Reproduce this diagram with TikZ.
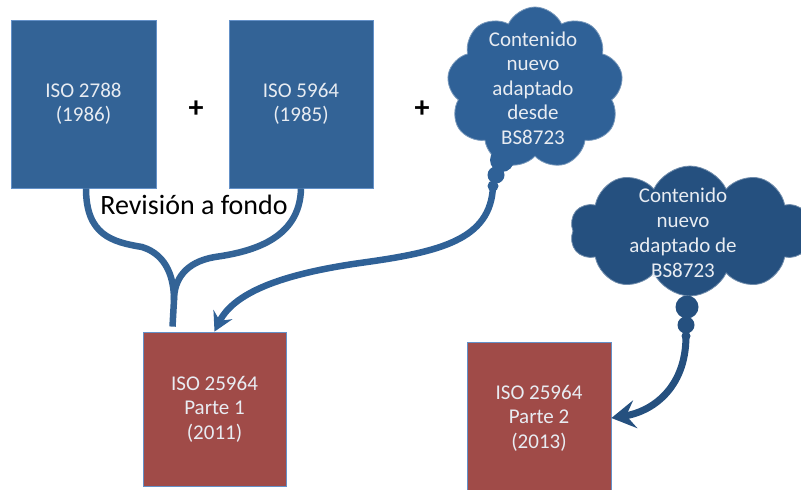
\documentclass[tikz,border=0pt]{standalone}
\usepackage{fontspec}
\setmainfont{Carlito}
\usetikzlibrary{shapes.symbols,arrows.meta}
\definecolor{isoblue}{RGB}{51,99,150}
\definecolor{cloudblue}{RGB}{47,97,151}
\definecolor{darkcloud}{RGB}{37,80,127}
\definecolor{isored}{RGB}{160,75,72}
\definecolor{edgeblue}{RGB}{100,145,200}
\definecolor{paletext}{RGB}{232,236,242}

\begin{document}
\begin{tikzpicture}[x=1pt,y=-1pt,
		oldbox/.style={fill=isoblue,draw=edgeblue,line width=0.8pt,minimum width=145pt,minimum height=168pt,text=paletext,align=center,font=\fontsize{21}{24.5}\selectfont},
		newbox/.style={oldbox,fill=isored,minimum width=143pt,minimum height=154pt},
		puffy/.style={cloud,cloud ignores aspect,fill=#1,draw=white!35!#1,line width=0.8pt,inner sep=0pt},
		bubble/.style={circle,fill=#1,inner sep=0pt},
		cloudtext/.style={text=paletext,align=center,font=\fontsize{21}{24.5}\selectfont},
		plus/.style={font=\fontsize{30}{30}\selectfont\bfseries},
		conn/.style={draw=#1,line width=6.5pt}]
		%%%%% START %%%%%
		
		\clip (0,0) rectangle (801,490);
		
		\node[oldbox] (b1) at (83.5,104) {ISO 2788\\(1986)};
		\node[oldbox,minimum width=144pt] (b2) at (301,104) {ISO 5964\\(1985)};
		\node[plus] (p1) at (196,109) {+};
		\node[plus] (p2) at (422,109) {+};
		
		\node[newbox] (r1) at (214.5,409) {ISO 25964\\Parte 1\\(2011)};
		\node[newbox,minimum width=144pt,minimum height=152pt] (r2) at (539,418) {ISO 25964\\Parte 2\\(2013)};
		
		\node[font=\fontsize{28}{30}\selectfont,anchor=base] (rev) at (194,214) {Revisión a fondo};
		
		% first cloud
		\node[puffy=cloudblue,cloud puffs=9,cloud puff arc=130,minimum width=176pt,minimum height=162pt] (cl1) at (535,88) {};
		\node[bubble=cloudblue,minimum size=24pt] (t1a) at (502,160) {};
		\node[bubble=cloudblue,minimum size=17pt] (t1b) at (496,175) {};
		\node[bubble=cloudblue,minimum size=11pt] (t1c) at (493,186) {};
		\node[cloudtext] (cl1txt) at (533,88) {Contenido\\nuevo\\adaptado\\desde\\BS8723};
		
		% second cloud
		\node[puffy=darkcloud,cloud puffs=10,cloud puff arc=130,minimum width=240pt,minimum height=130pt] (cl2) at (690,231) {};
		\node[bubble=darkcloud,minimum size=23pt] (t2a) at (687,307) {};
		\node[bubble=darkcloud,minimum size=17pt] (t2b) at (686,325) {};
		\node[bubble=darkcloud,minimum size=9pt] (t2c) at (686,336) {};
		\node[cloudtext,font=\fontsize{21}{25}\selectfont] (cl2txt) at (683,233) {Contenido\\nuevo\\adaptado de\\BS8723};
		
		% connectors
		\draw[conn=isoblue] ([xshift=2.5pt]b1.south) .. controls (86,235) and (112,242) .. (142,247) .. controls (168,255) and (174,280) .. (174,300) -- ([xshift=-42pt,yshift=5pt]r1.north);
		\draw[conn=isoblue] (b2.south) .. controls (300,240) and (250,252) .. (215,257) .. controls (185,262) and (174,280) .. (174,300);
		\draw[conn=cloudblue,-{Stealth[length=19pt,width=21pt,inset=7pt]}] (t1c.center) .. controls (491,240) and (440,252) .. (360,263) .. controls (290,273) and (235,290) .. (r1.north);
		\draw[conn=darkcloud,line width=7pt,-{Stealth[length=24pt,width=28pt,inset=9pt]}] (t2c.center) .. controls (686,390) and (650,412) .. (r2.east);
		
		%%%%% END %%%%%
	\end{tikzpicture}
\end{document}
